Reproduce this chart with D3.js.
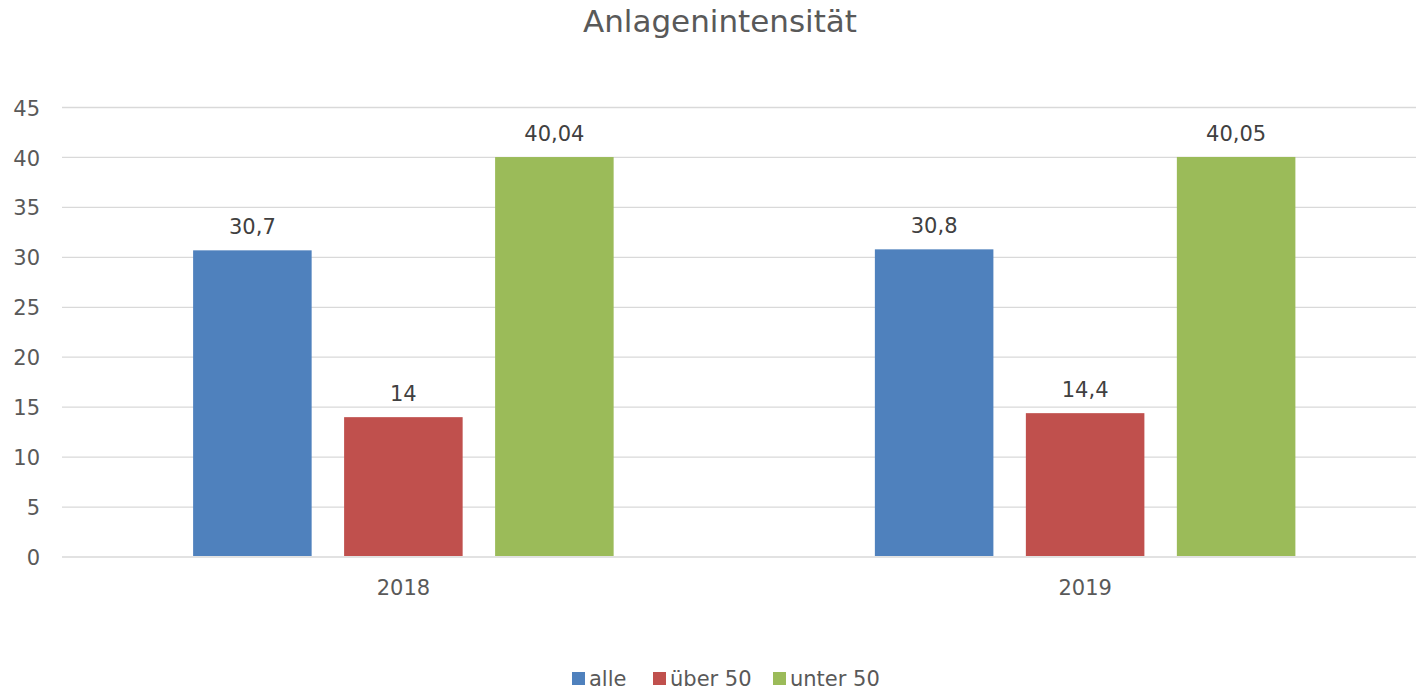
<!DOCTYPE html>
<html>
<head>
<meta charset="utf-8">
<script src="https://cdn.jsdelivr.net/npm/d3@7"></script>
<style>
  html, body { margin: 0; padding: 0; background: #fff; }
  svg { display: block; font-family: "DejaVu Sans", sans-serif; }
</style>
</head>
<body>
<svg id="chart" width="1416" height="689"></svg>
<script>
const title = "Anlagenintensität";
const categories = ["2018", "2019"];
const seriesNames = ["alle", "über 50", "unter 50"];
const seriesColors = ["#4F81BD", "#C0504D", "#9BBB59"];
const alle = [30.7, 30.8];
const ueber50 = [14, 14.4];
const unter50 = [40.04, 40.05];
const valueLabels = [["30,7", "30,8"], ["14", "14,4"], ["40,04", "40,05"]];
const yTicks = [0, 5, 10, 15, 20, 25, 30, 35, 40, 45];

const seriesValues = [alle, ueber50, unter50];
const svg = d3.select("#chart");
const textColor = "#595959";

const x0 = d3.scaleBand().domain(categories).range([62.5, 1426]).paddingInner(0).paddingOuter(0);
const x1 = d3.scaleBand().domain(seriesNames).range([0, x0.bandwidth()]).paddingInner(0.215).paddingOuter(0.865);
const y = d3.scaleLinear().domain([0, 45]).range([557, 107.5]);

// title
svg.append("text").attr("x", 720).attr("y", 32).attr("text-anchor", "middle")
  .attr("font-size", 31).attr("fill", textColor).text(title);

// gridlines (non-zero)
svg.append("g").selectAll("line").data(yTicks.filter(d => d !== 0)).join("line")
  .attr("x1", 62).attr("x2", 1416)
  .attr("y1", d => y(d)).attr("y2", d => y(d))
  .attr("stroke", "#d9d9d9").attr("stroke-width", 1.3);

// y axis labels
const yAxis = d3.axisLeft(y).tickValues(yTicks).tickSize(0).tickPadding(0).tickFormat(d3.format("d"));
const yg = svg.append("g").attr("transform", "translate(40,0)").call(yAxis);
yg.select(".domain").remove();
yg.selectAll("text").attr("font-size", 21).attr("fill", textColor).attr("font-family", "DejaVu Sans").attr("dy", "0.36em");

// bars
const groups = svg.append("g").selectAll("g").data(categories).join("g")
  .attr("transform", d => `translate(${x0(d)},0)`);
groups.each(function(cat, ci) {
  const g = d3.select(this);
  seriesNames.forEach((s, si) => {
    const v = seriesValues[si][ci];
    g.append("rect").attr("x", x1(s)).attr("width", x1.bandwidth())
      .attr("y", y(v)).attr("height", y(0) - y(v) - 1)
      .attr("fill", seriesColors[si]);
    g.append("text").attr("x", x1(s) + x1.bandwidth() / 2).attr("y", y(v) - 16)
      .attr("text-anchor", "middle").attr("font-size", 21).attr("fill", "#404040")
      .text(valueLabels[si][ci]);
  });
});

// zero line
svg.append("line").attr("x1", 62).attr("x2", 1416).attr("y1", y(0)).attr("y2", y(0))
  .attr("stroke", "#d9d9d9").attr("stroke-width", 1.5);

// x axis labels
const xAxis = d3.axisBottom(x0).tickSize(0).tickPadding(0);
const xg = svg.append("g").attr("transform", "translate(0,595)").call(xAxis);
xg.select(".domain").remove();
xg.selectAll("text").attr("font-size", 21).attr("fill", textColor).attr("font-family", "DejaVu Sans").attr("dy", 0);

// legend
const legendX = [572, 653, 773];
const lg = svg.append("g").selectAll("g").data(seriesNames).join("g")
  .attr("transform", (d, i) => `translate(${legendX[i]},672)`);
lg.append("rect").attr("width", 13).attr("height", 13).attr("fill", (d, i) => seriesColors[i]);
lg.append("text").attr("x", 17).attr("y", 13.5).attr("font-size", 21).attr("fill", textColor).text(d => d);
</script>
</body>
</html>
